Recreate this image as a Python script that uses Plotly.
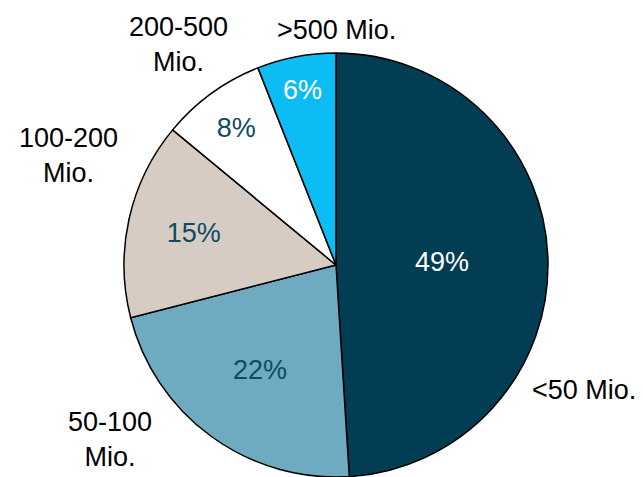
import plotly.graph_objects as go

categories = ["<50 Mio.", "50-100 Mio.", "100-200 Mio.", "200-500 Mio.", ">500 Mio."]
shares = [49, 22, 15, 8, 6]
colors = ["#023d54", "#6eaac0", "#d6ccc4", "#ffffff", "#0cbcf5"]
text_colors = ["#ffffff", "#0f4a61", "#0f4a61", "#0f4a61", "#ffffff"]
outer_labels = ["<50 Mio.", "50-100<br>Mio.", "100-200<br>Mio.", "200-500<br>Mio.", ">500 Mio."]
label_pos = [(0.908, 0.182), (0.171, 0.078), (0.106, 0.675), (0.277, 0.906), (0.524, 0.937)]

FONT = "Liberation Sans, Arial, Helvetica, sans-serif"

fig = go.Figure(go.Pie(
    labels=categories,
    values=shares,
    sort=False,
    direction="clockwise",
    rotation=0,
    marker=dict(colors=colors, line=dict(color="#000000", width=1.5)),
    texttemplate="%{value}%",
    textposition="inside",
    insidetextorientation="horizontal",
    insidetextfont=dict(family=FONT, size=27, color=text_colors),
    showlegend=False,
    hoverinfo="label+percent",
    domain=dict(x=[124 / 643, 548 / 643], y=[0, 424 / 477]),
))

for lab, (x, y) in zip(outer_labels, label_pos):
    fig.add_annotation(text=lab, x=x, y=y, xref="paper", yref="paper",
                       showarrow=False, xanchor="center", yanchor="middle",
                       font=dict(family=FONT, size=27, color="#000000"))

fig.update_layout(
    width=643, height=477,
    margin=dict(l=0, r=0, t=0, b=0),
    paper_bgcolor="#ffffff",
    plot_bgcolor="#ffffff",
    uniformtext=dict(minsize=27, mode="show"),
)

fig.write_html("out.html")
